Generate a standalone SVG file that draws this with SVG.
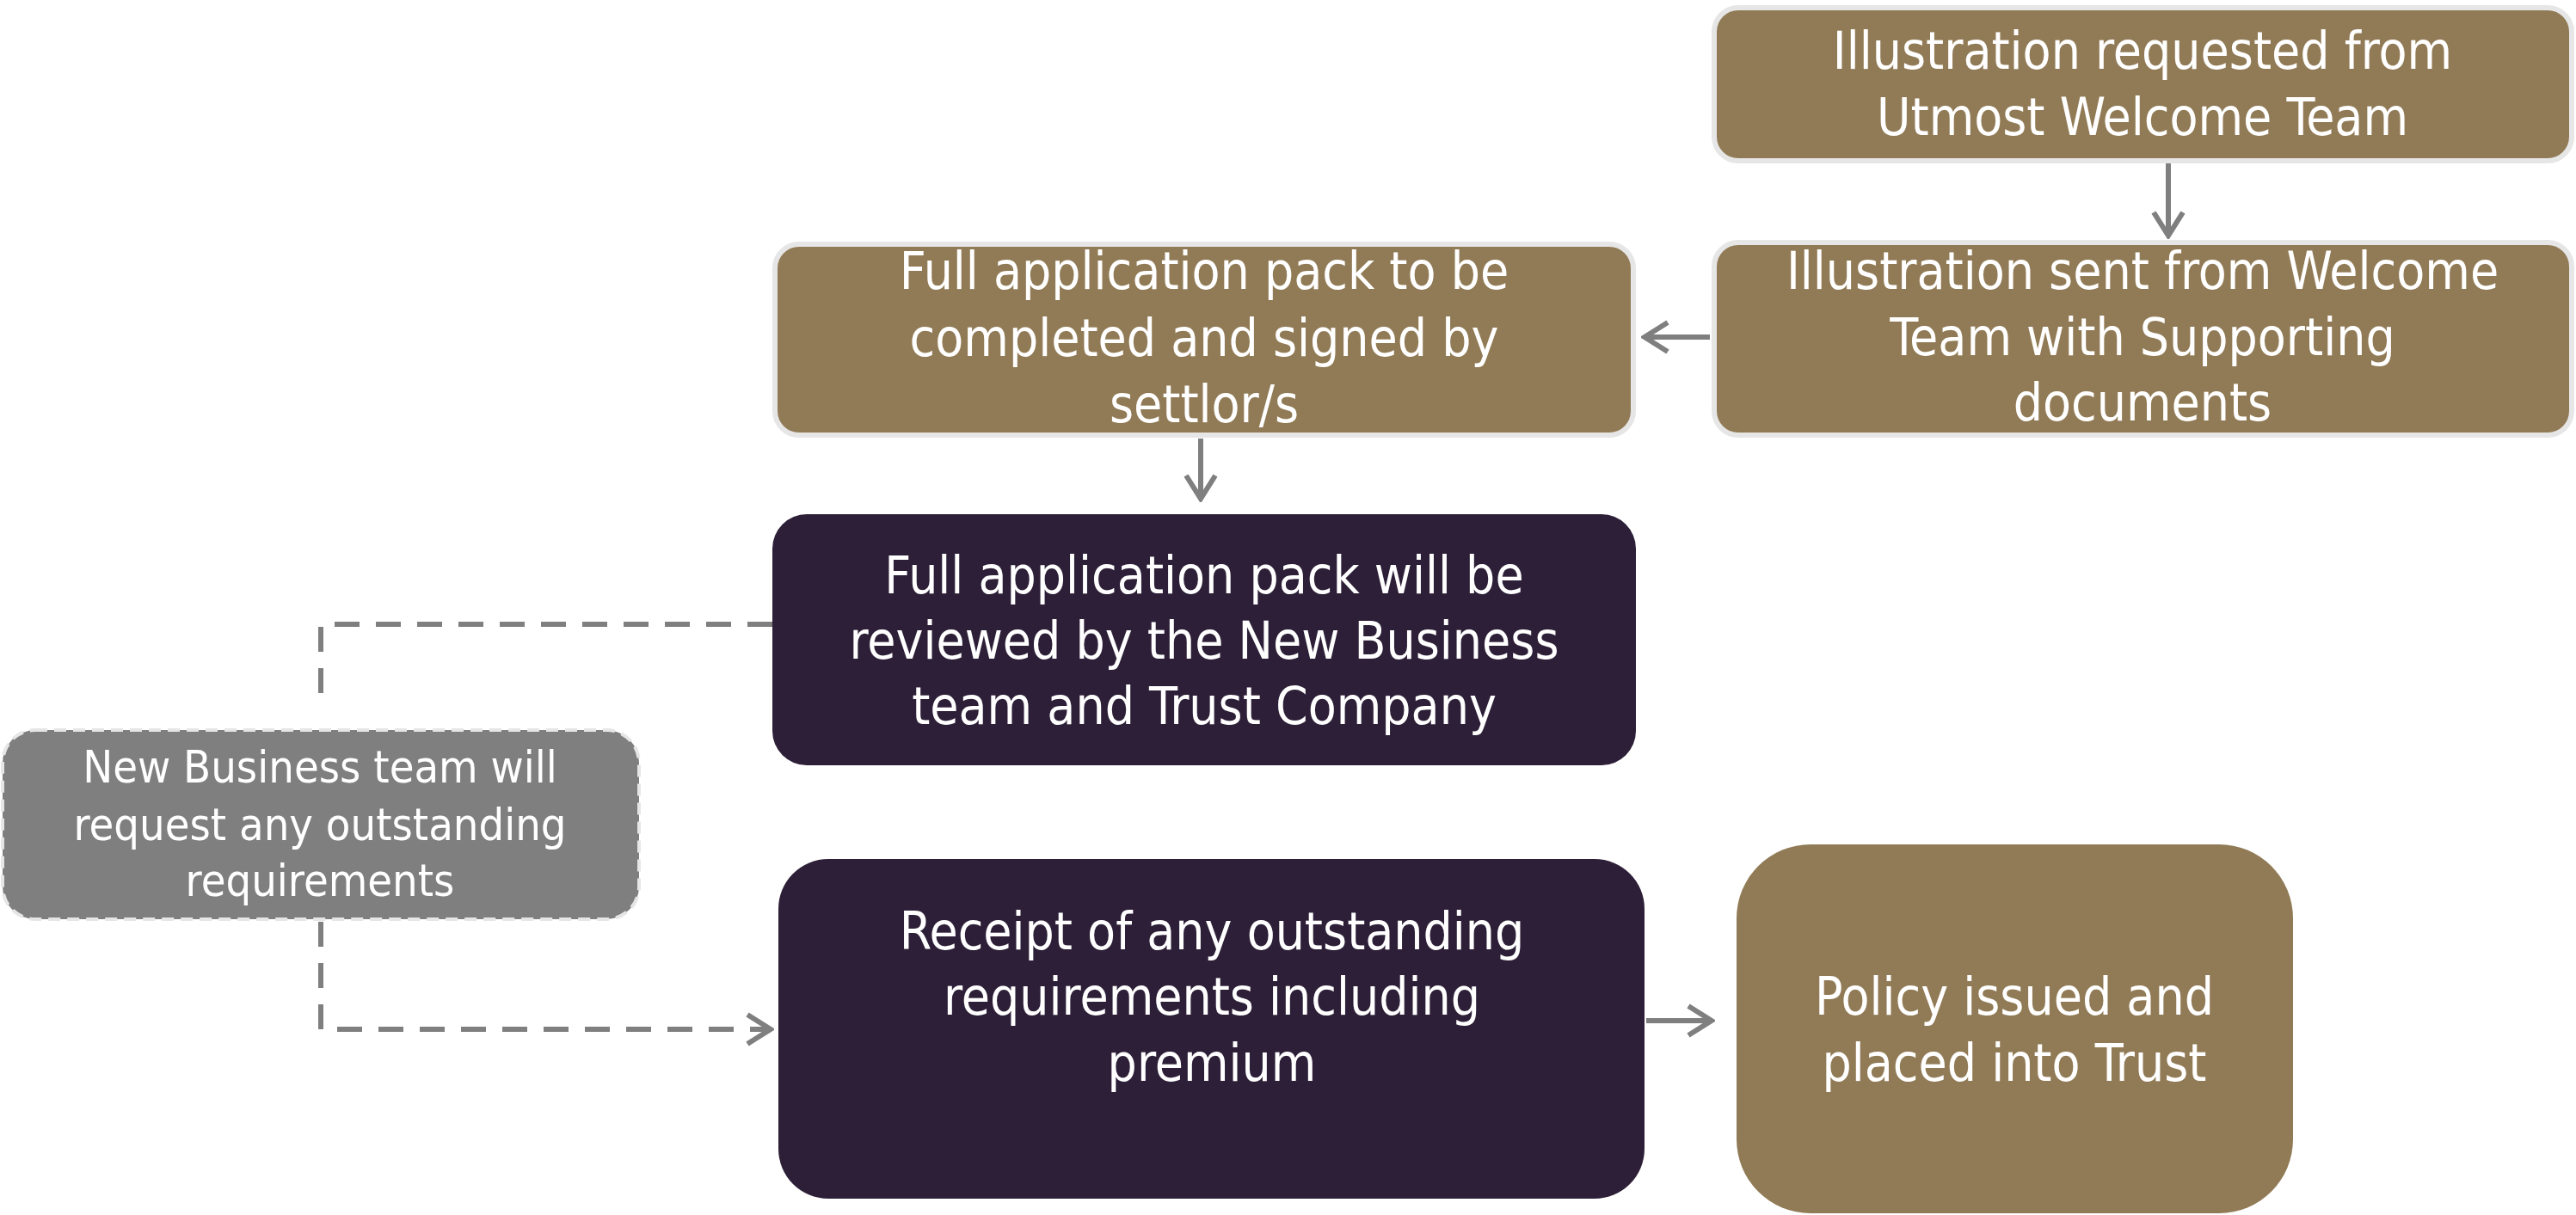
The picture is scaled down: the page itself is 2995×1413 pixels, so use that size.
<svg xmlns="http://www.w3.org/2000/svg" width="2995" height="1413" viewBox="0 0 2995 1413">
<style>
.gold{fill:#917b56;stroke:#e6e6e6;stroke-width:6}
.dark{fill:#2d1f37}
.grey{fill:#7f7f7f;stroke:#e6e6e6;stroke-width:4;stroke-dasharray:14 8}
.t{font-family:"Liberation Sans Narrow","DejaVu Sans Condensed","Liberation Sans",sans-serif;font-size:60px;fill:#ffffff;text-anchor:middle}
.s{font-size:52px}
.c{fill:none;stroke:#7f7f7f;stroke-width:6}
.d{stroke-dasharray:29 19}
</style>
<defs>
<marker id="ah" viewBox="0 0 34 40" refX="30" refY="20" markerWidth="34" markerHeight="40" markerUnits="userSpaceOnUse" orient="auto">
<path d="M3,3 L30,20 L3,37" fill="none" stroke="#7f7f7f" stroke-width="6"/>
</marker>
</defs>
<g id="connectors">
<line class="c" x1="2521" y1="188" x2="2521" y2="274" marker-end="url(#ah)"/>
<line class="c" x1="1988" y1="392" x2="1912" y2="392" marker-end="url(#ah)"/>
<line class="c" x1="1396" y1="510" x2="1396" y2="580" marker-end="url(#ah)"/>
<polyline class="c d" points="898,726 373,726 373,809"/>
<polyline class="c d" points="373,1072 373,1197 896,1197" marker-end="url(#ah)"/>
<line class="c" x1="1914" y1="1187" x2="1990" y2="1187" marker-end="url(#ah)"/>
</g>
<g id="n1">
<rect class="gold" x="1993" y="9" width="997" height="178" rx="28"/>
<text class="t" x="2491" y="80">Illustration requested from</text>
<text class="t" x="2491" y="157">Utmost Welcome Team</text>
</g>
<g id="n2">
<rect class="gold" x="1993" y="282" width="997" height="224" rx="28"/>
<text class="t" x="2491" y="336">Illustration sent from Welcome</text>
<text class="t" x="2491" y="413">Team with Supporting</text>
<text class="t" x="2491" y="489">documents</text>
</g>
<g id="n3">
<rect class="gold" x="901" y="284" width="998" height="222" rx="28"/>
<text class="t" x="1400" y="336">Full application pack to be</text>
<text class="t" x="1400" y="414">completed and signed by</text>
<text class="t" x="1400" y="491">settlor/s</text>
</g>
<g id="n4">
<rect class="dark" x="898" y="598" width="1004" height="292" rx="40"/>
<text class="t" x="1400" y="690">Full application pack will be</text>
<text class="t" x="1400" y="766">reviewed by the New Business</text>
<text class="t" x="1400" y="842">team and Trust Company</text>
</g>
<g id="n5">
<rect class="grey" x="3" y="849" width="740" height="220" rx="38"/>
<text class="t s" x="372" y="910">New Business team will</text>
<text class="t s" x="372" y="977">request any outstanding</text>
<text class="t s" x="372" y="1042">requirements</text>
</g>
<g id="n6">
<rect class="dark" x="905" y="999" width="1007" height="395" rx="58"/>
<text class="t" x="1409" y="1104">Receipt of any outstanding</text>
<text class="t" x="1409" y="1180">requirements including</text>
<text class="t" x="1409" y="1257">premium</text>
</g>
<g id="n7">
<rect fill="#917b56" x="2019" y="982" width="647" height="429" rx="86"/>
<text class="t" x="2342" y="1180">Policy issued and</text>
<text class="t" x="2342" y="1257">placed into Trust</text>
</g>
</svg>
